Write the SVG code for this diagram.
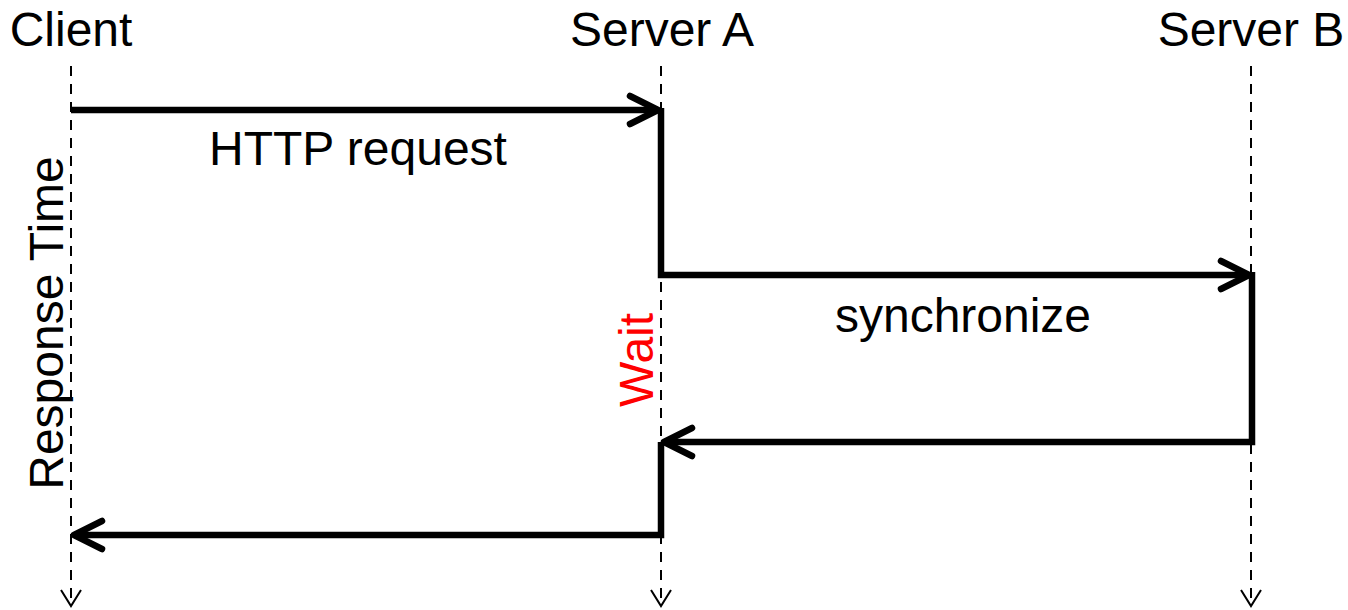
<svg xmlns="http://www.w3.org/2000/svg" width="1348" height="610" viewBox="0 0 1348 610">
<defs>
<style>
.lbl{font-family:"Liberation Sans",Arial,sans-serif;font-size:48px;fill:#000;text-anchor:middle}
.life{stroke:#000;stroke-width:2;stroke-dasharray:10 8;fill:none}
.tip{stroke:#000;stroke-width:2;fill:none}
.msg{stroke:#000;stroke-width:6.5;fill:none;stroke-linejoin:miter}
.head{stroke:#000;stroke-width:6.5;fill:none;stroke-linecap:round;stroke-linejoin:round}
</style>
</defs>
<rect width="1348" height="610" fill="#fff"/>
<g id="client">
<text class="lbl" x="71" y="46">Client</text>
<line class="life" x1="71" y1="66" x2="71" y2="605"/>
<polyline class="tip" points="61,590 71,606 81,590"/>
</g>
<g id="serverA">
<text class="lbl" x="662" y="46">Server A</text>
<line class="life" x1="661" y1="66" x2="661" y2="605"/>
<polyline class="tip" points="651,590 661,606 671,590"/>
</g>
<g id="serverB">
<text class="lbl" x="1251" y="46">Server B</text>
<line class="life" x1="1251" y1="66" x2="1251" y2="605"/>
<polyline class="tip" points="1241,590 1251,606 1261,590"/>
</g>
<g id="connectors">
<polyline class="msg" points="71,110 658,110"/>
<polyline class="head" points="630,96 658,110 630,124"/>
<polyline class="msg" points="661,108 661,275 1249,275"/>
<polyline class="head" points="1221,261 1249,275 1221,289"/>
<polyline class="msg" points="1252,272 1252,442 664,442"/>
<polyline class="head" points="692,428 664,442 692,456"/>
<polyline class="msg" points="661,442 661,535 74,535"/>
<polyline class="head" points="102,521 74,535 102,549"/>
</g>
<g id="labels">
<text class="lbl" x="358" y="165">HTTP request</text>
<text class="lbl" x="963" y="332">synchronize</text>
<text class="lbl" transform="translate(63,323) rotate(-90)">Response Time</text>
<text class="lbl" transform="translate(653,360) rotate(-90)" style="fill:#ff0000">Wait</text>
</g>
</svg>
